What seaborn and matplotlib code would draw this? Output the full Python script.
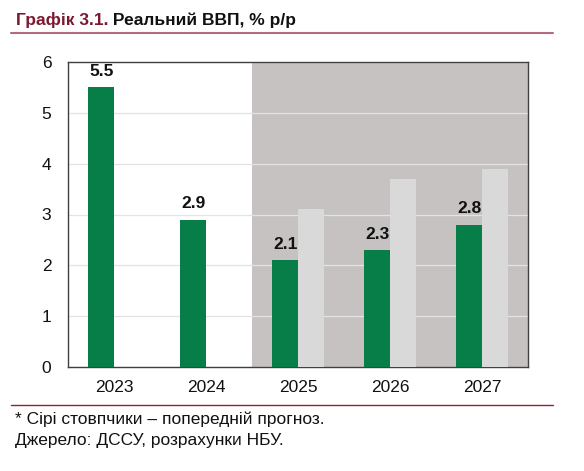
import numpy as np
import pandas as pd
import seaborn as sns
import matplotlib.pyplot as plt
from matplotlib.lines import Line2D

# values
years = ['2023', '2024', '2025', '2026', '2027']
gdp = [5.5, 2.9, 2.1, 2.3, 2.8]
prev_forecast = [np.nan, np.nan, 3.1, 3.7, 3.9]
series_names = ['current', 'previous']
y_ticks = [0, 1, 2, 3, 4, 5, 6]

title_red = 'Графік 3.1.'
title_rest = ' Реальний ВВП, % р/р'
note_1 = '* Сірі стовпчики – попередній прогноз.'
note_2 = 'Джерело: ДССУ, розрахунки НБУ.'

sns.set_theme(style='white')
plt.rcParams['font.family'] = ['Liberation Sans', 'DejaVu Sans']

df = pd.DataFrame({
    'year': years * 2,
    'value': gdp + prev_forecast,
    'series': [series_names[0]] * len(years) + [series_names[1]] * len(years),
})

W, H = 584, 471
fig = plt.figure(figsize=(W / 100, H / 100), dpi=100)
ax = fig.add_axes([68 / W, 1 - 367 / H, (528 - 68) / W, (367 - 62) / H])

green = '#077e47'
light = '#d9d9d9'
shade = '#c6c2c2'

sns.barplot(data=df, x='year', y='value', hue='series', hue_order=series_names,
            palette=[green, light], saturation=1, width=0.56, dodge=True, ax=ax,
            legend=False, zorder=3, linewidth=0)

# forecast period shading
ax.axvspan(1.5, 4.5, color=shade, zorder=0, lw=0)
ax.set_xlim(-0.5, 4.5)
ax.set_ylim(0, 6)
ax.set_yticks(y_ticks)
ax.yaxis.grid(True, color='#e4e2e2', lw=0.9, zorder=1)
ax.set_axisbelow(True)
ax.set_xlabel('')
ax.set_ylabel('')
ax.tick_params(axis='both', length=0, labelsize=12.5, colors='#111111')
ax.tick_params(axis='y', pad=12)
ax.tick_params(axis='x', pad=9)
for s in ax.spines.values():
    s.set_visible(True)
    s.set_color('#404040')
    s.set_linewidth(1.0)

# value labels on green bars
for i, v in enumerate(gdp):
    ax.annotate(f'{v:.1f}', xy=(i - 0.14, v), xytext=(0, 6), textcoords='offset points',
                ha='center', va='bottom', fontsize=12.5, fontweight='bold', color='#111111')

# title
t1 = fig.text(16 / W, 1 - 20 / H, title_red, fontsize=12.5, fontweight='bold',
              color='#7a1a30', va='center', ha='left')
ax.annotate(title_rest, xy=(1, 0), xycoords=t1, va='bottom', ha='left',
            fontsize=12.5, fontweight='bold', color='#111111', annotation_clip=False)

fig.add_artist(Line2D([11 / W, 553 / W], [1 - 33 / H, 1 - 33 / H],
                      color='#b06c7c', lw=1.5, transform=fig.transFigure))
fig.add_artist(Line2D([11 / W, 553 / W], [1 - 405 / H, 1 - 405 / H],
                      color='#8b2535', lw=1.0, transform=fig.transFigure))

fig.text(15 / W, 1 - 419 / H, note_1, fontsize=12.5, color='#111111', va='center', ha='left')
fig.text(15 / W, 1 - 441 / H, note_2, fontsize=12.5, color='#111111', va='center', ha='left')

fig.savefig('out.png', dpi=100)
